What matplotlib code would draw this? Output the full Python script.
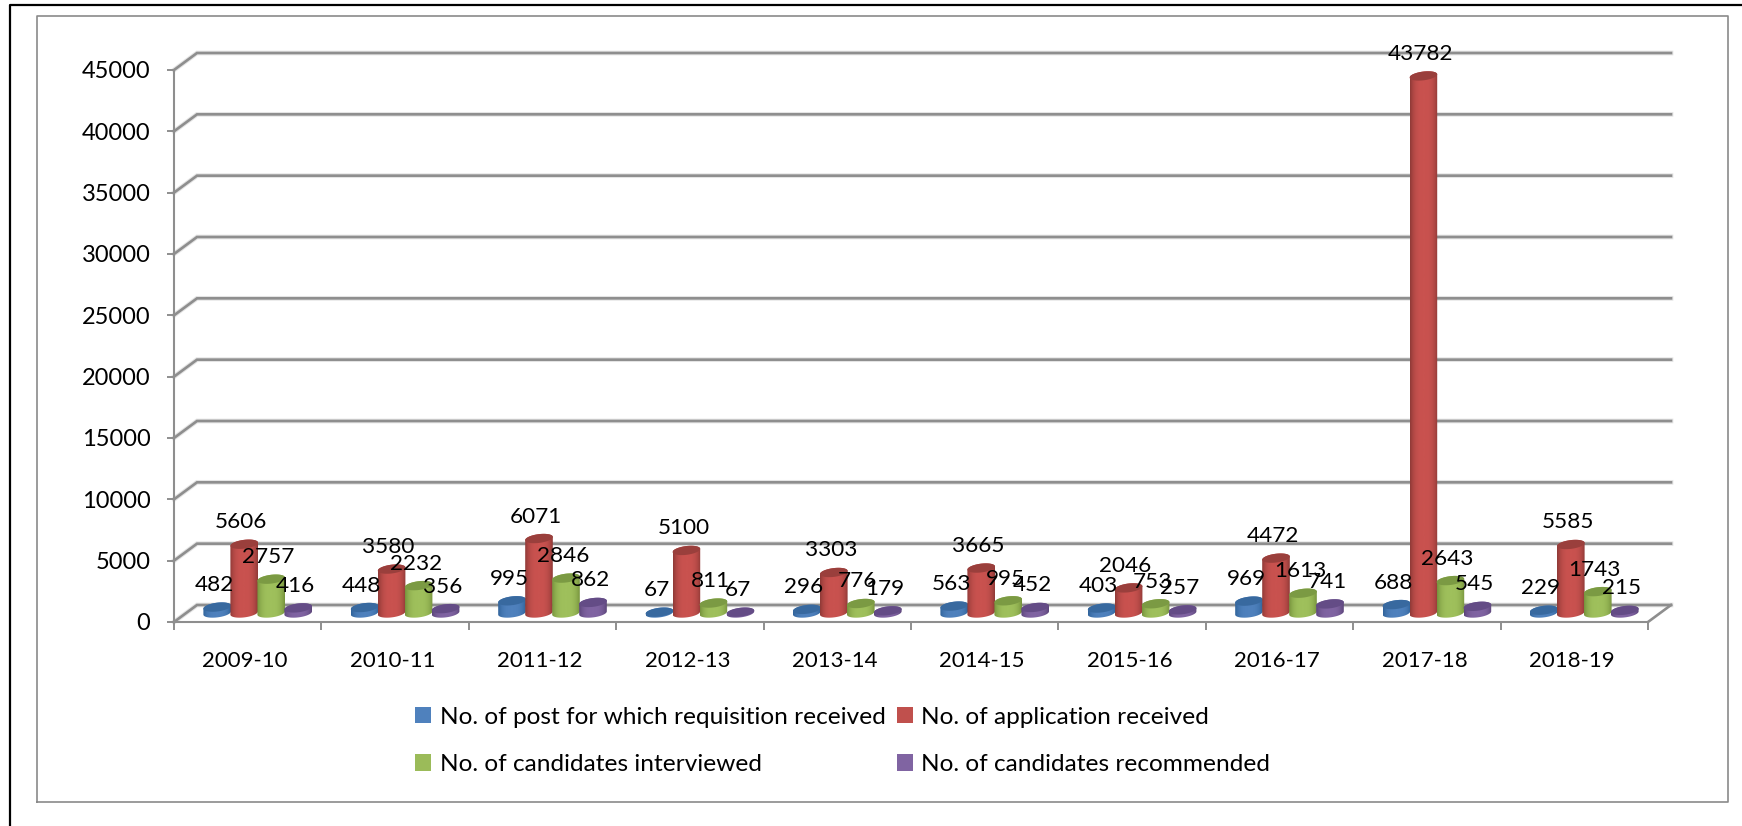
import numpy as np
import matplotlib
matplotlib.use('Agg')
import matplotlib.pyplot as plt
from matplotlib.colors import LinearSegmentedColormap
from matplotlib.lines import Line2D
from matplotlib.patches import Patch, Polygon

plt.rcParams['font.family'] = ['Lato', 'DejaVu Sans']

years = ['2009-10', '2010-11', '2011-12', '2012-13', '2013-14',
         '2014-15', '2015-16', '2016-17', '2017-18', '2018-19']
posts = [482, 448, 995, 67, 296, 563, 403, 969, 688, 229]
applications = [5606, 3580, 6071, 5100, 3303, 3665, 2046, 4472, 43782, 5585]
interviewed = [2757, 2232, 2846, 811, 776, 995, 753, 1613, 2643, 1743]
recommended = [416, 356, 862, 67, 179, 452, 257, 741, 545, 215]
y_ticks = [0, 5000, 10000, 15000, 20000, 25000, 30000, 35000, 40000, 45000]

series = [posts, applications, interviewed, recommended]
names = ['No. of post for which requisition received', 'No. of application received',
         'No. of candidates interviewed', 'No. of candidates recommended']
colors = ['#4f81bd', '#c9524f', '#9fc05c', '#8064a2']
dark = ['#2f6299', '#8e3936', '#75923c', '#5a4478']
tops = ['#38699f', '#9a3f3c', '#7b9a43', '#644c86']
legend_colors = ['#4f81bd', '#c0504d', '#9bbb59', '#8064a2']

W, H = 1742, 826
LEFT, RIGHT, BOTTOM, TOP = 174, 1648, 622, 70
GRAY = '#8e8e8e'

fig = plt.figure(figsize=(W / 100, H / 100), dpi=100)
ax = fig.add_axes([LEFT / W, 1 - BOTTOM / H, (RIGHT - LEFT) / W, (BOTTOM - TOP) / H])
ax.patch.set_visible(False)

# pixel sizes in data units
ux = 10 / (RIGHT - LEFT)
uy = 45000 / (BOTTOM - TOP)
dep_x, dep_y = 23 * ux, 17 * uy

# outer frames
fig.add_artist(Line2D([10 / W, 10 / W, 1], [0, 1 - 5 / H, 1 - 5 / H], color='black', lw=1.6))
fig.add_artist(Line2D([37 / W, 37 / W, 1728 / W, 1728 / W, 37 / W],
                      [1 - 802 / H, 1 - 16 / H, 1 - 16 / H, 1 - 802 / H, 1 - 802 / H],
                      color='#8a8a8a', lw=1.2))

# back wall gridlines and the slanted side wall
for v in y_ticks:
    ax.plot([0, dep_x, 10 + dep_x], [v, v + dep_y, v + dep_y], color='#e4e4e4', lw=3.4,
            clip_on=False, zorder=1, solid_joinstyle='miter')
    ax.plot([0, dep_x, 10 + dep_x], [v, v + dep_y, v + dep_y], color=GRAY, lw=1.9,
            clip_on=False, zorder=1.1, solid_joinstyle='miter')
ax.plot([10, 10 + dep_x], [0, dep_y], color=GRAY, lw=1.9, clip_on=False, zorder=1.1)


def ellipse_pts(cx, cy, a, b, tilt, t):
    return np.column_stack([cx + a * np.cos(t), cy + b * np.sin(t) + tilt * np.cos(t)])


half_w = 13.8 * ux
step = 27 * ux
b = 4.4 * uy
tilt = 1.6 * uy
lift = 9 * uy
grad = np.abs(np.linspace(-1, 1, 128)) ** 3
grad = grad[np.newaxis, :]

for j, vals in enumerate(series):
    cmap = LinearSegmentedColormap.from_list('c', [colors[j], dark[j]])
    for i, v in enumerate(vals):
        cx = i + 0.5 + 10 * ux + (j - 1.5) * step
        y0 = lift
        y1 = lift + v
        t_low = np.linspace(np.pi, 2 * np.pi, 40)
        t_up = np.linspace(0, np.pi, 40)
        outline = np.vstack([ellipse_pts(cx, y0, half_w, b, tilt, t_low),
                             ellipse_pts(cx, y1, half_w, b, tilt, t_up)])
        body = Polygon(outline, closed=True, transform=ax.transData, fc='none', ec='none')
        ax.add_patch(body)
        im = ax.imshow(grad, cmap=cmap, vmin=0, vmax=1, aspect='auto',
                       extent=[cx - half_w, cx + half_w, y0 - 2 * b, y1 + 2 * b],
                       zorder=3 + j * 0.1, clip_on=True)
        im.set_clip_path(body)
        top = Polygon(ellipse_pts(cx, y1, half_w, b, tilt, np.linspace(0, 2 * np.pi, 60)),
                      closed=True, fc=tops[j], ec='none', zorder=3.05 + j * 0.1)
        ax.add_patch(top)
        ax.annotate(str(v), (cx, y1), xytext=(-3, 22), textcoords='offset pixels',
                    ha='center', va='center', fontsize=16.2, color='black',
                    annotation_clip=False, zorder=6)

ax.set_xlim(0, 10)
ax.set_ylim(0, 45000)
ax.set_xticks(np.arange(0, 11))
ax.set_xticks(np.arange(10) + 0.5 - 2.5 * ux, minor=True)
ax.set_xticklabels([''] * 11)
ax.set_xticklabels(years, minor=True)
ax.set_yticks(y_ticks)
ax.tick_params(axis='x', which='major', length=6, width=1.4, color=GRAY)
ax.tick_params(axis='x', which='minor', length=0, pad=21, labelsize=16)
ax.tick_params(axis='y', length=5, width=1.4, color=GRAY, pad=12, labelsize=17)
for s in ['top', 'right']:
    ax.spines[s].set_visible(False)
for s in ['left', 'bottom']:
    ax.spines[s].set_color(GRAY)
    ax.spines[s].set_linewidth(1.5)

handles = [Patch(fc=legend_colors[k], ec='none', label=names[k]) for k in [0, 2, 1, 3]]
fig.legend(handles=handles, ncol=2, frameon=False, fontsize=17.6,
           loc='center left', bbox_to_anchor=(415 / W, 1 - 741 / H),
           handlelength=0.65, handleheight=0.65, handletextpad=0.36,
           columnspacing=0.46, labelspacing=1.08, borderpad=0, borderaxespad=0)

fig.savefig('out.png', dpi=100)
